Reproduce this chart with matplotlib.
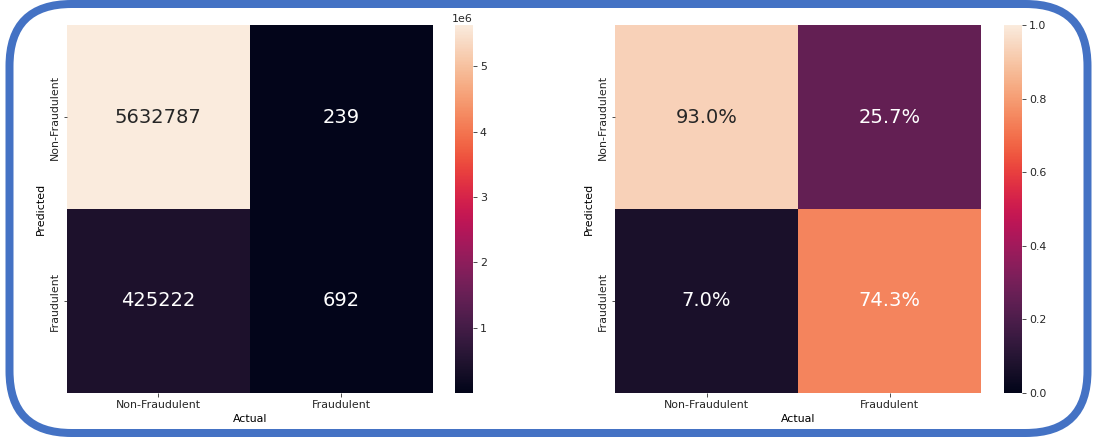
import numpy as np
import matplotlib
matplotlib.use("Agg")
import matplotlib.pyplot as plt
import matplotlib.patches as patches
import matplotlib.transforms as mtransforms
import seaborn as sns

labels = ["Non-Fraudulent", "Fraudulent"]

# confusion matrix counts (rows = predicted, cols = actual)
counts = np.array([[5632787, 239],
                   [425222, 692]])

# column-normalised share, as shown on the right
shares = np.array([[0.930, 0.257],
                   [0.070, 0.743]])

DPI = 72
fig = plt.figure(figsize=(1102 / DPI, 438 / DPI), dpi=DPI)
plt.rcParams["font.size"] = 11

bottom = 45 / 438
height = 368 / 438
ax1 = fig.add_axes([66.7 / 1102, bottom, 366.3 / 1102, height])
cax1 = fig.add_axes([455 / 1102, bottom, 18 / 1102, height])
ax2 = fig.add_axes([615 / 1102, bottom, 366.3 / 1102, height])
cax2 = fig.add_axes([1004 / 1102, bottom, 18 / 1102, height])

sns.heatmap(counts, annot=True, fmt="d", annot_kws={"size": 19.5},
            xticklabels=labels, yticklabels=labels, ax=ax1, cbar_ax=cax1)
sns.heatmap(shares, annot=True, fmt=".1%", annot_kws={"size": 19.5},
            vmin=0, vmax=1, xticklabels=labels, yticklabels=labels,
            ax=ax2, cbar_ax=cax2)

for ax in (ax1, ax2):
    ax.set_xlabel("Actual", fontsize=11)
    ax.set_ylabel("Predicted", fontsize=11)
    ax.tick_params(labelsize=11, colors="#262626")
    plt.setp(ax.get_yticklabels(), rotation=90, va="center")
    plt.setp(ax.get_xticklabels(), rotation=0)

for cax in (cax1, cax2):
    cax.tick_params(labelsize=11, colors="#262626")
    cax.yaxis.get_offset_text().set_fontsize(11)

# rounded blue frame around the whole picture
frame = patches.FancyBboxPatch((9.5, 5), 1078, 429,
                               boxstyle="round,pad=0,rounding_size=62",
                               fill=False, edgecolor="#4472C4", linewidth=8,
                               transform=mtransforms.IdentityTransform())
fig.add_artist(frame)

fig.savefig("out.png", dpi=DPI)
